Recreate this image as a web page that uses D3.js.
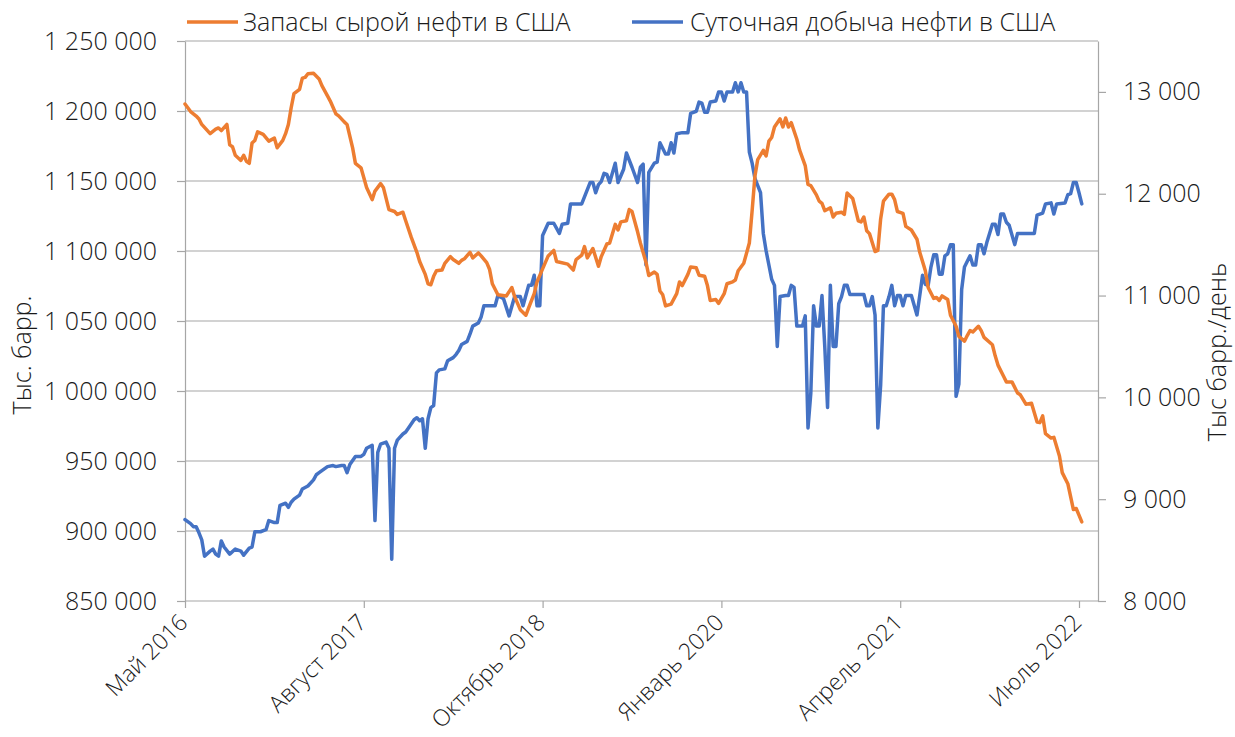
<!DOCTYPE html>
<html>
<head>
<meta charset="utf-8">
<script src="https://cdn.jsdelivr.net/npm/d3@7"></script>
<style>
  body { margin: 0; background: #fff; }
  svg { font-family: "Open Sans", sans-serif; font-weight: 300; }
</style>
</head>
<body>
<div id="chart"></div>
<script>
// Weekly series, x = weeks since the first observation
const startDate = "2016-05-13";
const tickWeeks = [0, 64, 128, 192, 256, 320];
const tickLabels = ["Май 2016", "Август 2017", "Октябрь 2018", "Январь 2020", "Апрель 2021", "Июль 2022"];
const leftTicks = [850000, 900000, 950000, 1000000, 1050000, 1100000, 1150000, 1200000, 1250000];
const rightTicks = [8000, 9000, 10000, 11000, 12000, 13000];
const seriesNames = ["Запасы сырой нефти в США", "Суточная добыча нефти в США"];
const axisTitles = ["Тыс. барр.", "Тыс барр./день"];

// Запасы сырой нефти, тыс. барр. (left axis)
const stockWeeks = [0, 2, 4, 5, 6, 9, 11, 12, 13, 15, 16, 17, 18, 20, 21, 22, 23, 24, 25, 26, 28, 30, 32, 33, 35, 36, 37, 38, 39, 41,
  42, 43, 44, 46, 48, 49, 51, 52, 54, 55, 57, 58, 60, 61, 63, 65, 67, 68, 70, 71, 73, 75, 76, 78, 79, 81, 83, 84, 86, 87,
  88, 89, 90, 92, 93, 95, 96, 98, 99, 100, 102, 103, 105, 106, 108, 109, 110, 112, 115, 117, 118, 120, 122, 123, 125, 126, 128, 130, 132, 133,
  137, 139, 140, 142, 143, 144, 146, 148, 149, 151, 152, 154, 155, 156, 158, 159, 160, 162, 163, 165, 166, 168, 169, 170, 171, 172, 174, 176, 177, 178,
  180, 181, 183, 184, 186, 187, 188, 190, 191, 193, 194, 196, 197, 198, 200, 202, 203, 204, 205, 207, 208, 209, 210, 211, 213, 214, 215, 216, 217, 219,
  220, 222, 223, 224, 226, 227, 228, 229, 231, 232, 233, 235, 236, 237, 239, 240, 241, 242, 243, 244, 245, 247, 248, 249, 250, 252, 253, 254, 255, 257,
  258, 260, 262, 263, 265, 266, 268, 269, 270, 271, 273, 274, 276, 277, 279, 280, 281, 282, 284, 285, 286, 289, 290, 291, 293, 294, 296, 298, 299, 301,
  303, 305, 306, 307, 308, 310, 311, 313, 314, 316, 318, 319, 320, 321];
const stockValues = [1205000, 1199600, 1196400, 1194300, 1190400, 1183800, 1187000, 1187900, 1186000, 1190400, 1175800, 1174500, 1168400, 1164700, 1168400, 1164000, 1162600, 1177100, 1179000, 1185100, 1183300, 1178500, 1180600, 1173700, 1179000, 1183800, 1190400, 1202300, 1212400, 1215500,
  1223500, 1224000, 1226600, 1226900, 1222900, 1218100, 1210800, 1207100, 1198000, 1196500, 1192200, 1190400, 1173700, 1162600, 1159400, 1145400, 1136700, 1142800, 1148100, 1145400, 1129600, 1128200, 1126100, 1127700, 1121600, 1109700, 1099100, 1092500, 1083300, 1076600,
  1075900, 1081900, 1085900, 1086400, 1091200, 1096000, 1093900, 1091200, 1093300, 1094400, 1099100, 1095100, 1098600, 1096500, 1091700, 1087000, 1076600, 1068700, 1067900, 1073900, 1067400, 1058100, 1054100, 1059400, 1069500, 1077900, 1087200, 1096500, 1100400, 1092500,
  1090600, 1086400, 1093900, 1097000, 1103100, 1095100, 1101800, 1089100, 1096000, 1105000, 1105700, 1119000, 1115000, 1120800, 1121600, 1129600, 1128200, 1113700, 1105700, 1092000, 1082500, 1085000, 1083300, 1071400, 1068700, 1060800, 1062100, 1069500, 1077900, 1075300,
  1083300, 1088600, 1088000, 1082700, 1081900, 1075300, 1064700, 1065300, 1062600, 1069500, 1076600, 1077900, 1079300, 1085900, 1091200, 1105700, 1128900, 1153400, 1165300, 1171900, 1167900, 1178500, 1181100, 1188600, 1194400, 1188600, 1195000, 1188600, 1191700, 1179800,
  1172000, 1161000, 1147500, 1146700, 1140100, 1135600, 1134000, 1128800, 1130900, 1124300, 1126900, 1127700, 1126100, 1141400, 1137500, 1129600, 1121600, 1120800, 1124300, 1114500, 1112400, 1099600, 1100400, 1122900, 1135600, 1140600, 1140600, 1136700, 1128200, 1126900,
  1117600, 1115000, 1108400, 1099100, 1085900, 1073900, 1066100, 1066800, 1064700, 1067900, 1065300, 1054100, 1046200, 1039000, 1035600, 1039600, 1043100, 1042200, 1046200, 1043100, 1038300, 1033000, 1025100, 1018500, 1010500, 1006500, 1006500, 998600, 997300, 990600,
  991200, 977900, 977400, 982200, 969500, 966400, 966900, 953600, 941700, 933800, 915300, 916100, 911300, 906500];

// Суточная добыча, тыс. барр./день (right axis)
const outputWeeks = [0, 2, 3, 4, 5, 6, 7, 9, 10, 11, 12, 13, 14, 16, 18, 20, 21, 23, 24, 25, 27, 29, 30, 32, 33, 34, 36, 37, 38, 39,
  41, 42, 44, 46, 47, 48, 50, 51, 53, 54, 56, 57, 58, 59, 61, 63, 64, 65, 67, 68, 69, 70, 72, 73, 74, 75, 76, 78, 79, 80,
  82, 83, 84, 85, 86, 87, 88, 89, 90, 91, 93, 94, 96, 97, 98, 99, 101, 102, 103, 105, 106, 107, 109, 111, 112, 114, 116, 118, 119, 120,
  121, 123, 124, 125, 126, 127, 128, 130, 132, 134, 135, 137, 138, 140, 142, 145, 146, 147, 148, 149, 150, 151, 152, 154, 155, 157, 158, 160, 162, 163,
  164, 165, 166, 168, 169, 170, 172, 173, 174, 175, 176, 178, 180, 181, 183, 184, 185, 186, 187, 188, 190, 191, 192, 193, 194, 196, 197, 198, 199, 200,
  201, 202, 203, 204, 206, 207, 208, 209, 210, 211, 212, 213, 215, 216, 217, 218, 219, 221, 222, 223, 224, 225, 226, 227, 228, 229, 230, 231, 232, 233,
  234, 235, 236, 237, 238, 240, 242, 243, 244, 245, 246, 247, 248, 249, 250, 251, 252, 253, 254, 255, 256, 257, 258, 260, 262, 263, 264, 265, 266, 267,
  268, 269, 270, 271, 272, 273, 274, 275, 276, 277, 278, 279, 281, 282, 283, 284, 285, 286, 287, 289, 290, 291, 292, 293, 294, 295, 297, 298, 301, 304,
  305, 307, 308, 310, 311, 312, 315, 316, 317, 318, 319, 320, 321];
const outputValues = [8800, 8760, 8730, 8730, 8670, 8600, 8440, 8490, 8510, 8460, 8440, 8590, 8530, 8460, 8510, 8490, 8450, 8520, 8530, 8680, 8680, 8700, 8790, 8770, 8770, 8940, 8960, 8920, 8970, 9000,
  9040, 9100, 9130, 9190, 9240, 9260, 9300, 9320, 9330, 9320, 9330, 9330, 9260, 9340, 9420, 9420, 9440, 9500, 9530, 8790, 9460, 9540, 9560, 9500, 8410, 9500, 9580, 9640, 9660, 9700,
  9780, 9800, 9770, 9790, 9500, 9790, 9900, 9920, 10240, 10270, 10280, 10360, 10390, 10420, 10460, 10520, 10550, 10620, 10700, 10730, 10790, 10900, 10900, 10900, 11000, 10970, 10800, 10990, 10990, 10990,
  10900, 11100, 11100, 11200, 10900, 10900, 11590, 11710, 11710, 11610, 11700, 11710, 11900, 11900, 11900, 12110, 12110, 12010, 12090, 12120, 12200, 12190, 12110, 12300, 12110, 12240, 12400, 12260, 12110, 12260,
  12290, 11300, 12210, 12300, 12310, 12500, 12390, 12390, 12500, 12400, 12590, 12600, 12600, 12790, 12810, 12900, 12890, 12800, 12800, 12900, 12910, 13000, 13000, 12910, 13000, 13000, 13090, 13000, 13090, 13000,
  13000, 12410, 12300, 12150, 12010, 11610, 11440, 11300, 11160, 11100, 10500, 10990, 11000, 11000, 11100, 11080, 10700, 10700, 10800, 9700, 10040, 10900, 10700, 10700, 11000, 10500, 9900, 11100, 10500, 10500,
  10920, 10990, 11100, 11100, 11010, 11010, 11010, 11010, 10900, 10900, 10990, 10810, 9700, 10120, 10900, 10900, 10990, 11100, 10900, 11000, 11000, 10900, 11000, 11000, 10810, 11000, 11200, 11110, 11100, 11280,
  11400, 11400, 11210, 11210, 11390, 11410, 11500, 11500, 10010, 10130, 11060, 11280, 11390, 11300, 11300, 11500, 11500, 11410, 11520, 11700, 11700, 11600, 11800, 11800, 11720, 11690, 11500, 11610, 11610, 11610,
  11790, 11810, 11900, 11910, 11800, 11900, 11910, 11990, 12000, 12110, 12110, 12010, 11900];

const colors = ["#ED7D31", "#4472C4"];
const gridColor = "#a6a6a6";
const textColor = "#1a1a1a";

const W = 1235, H = 737;
const plot = {left: 185, right: 1098, top: 41, bottom: 601};

let parseDay = d3.utcParse("%Y-%m-%d");
let weekDate = (w) => d3.utcDay.offset(parseDay(startDate), 7 * w);

let svg = d3.select("#chart")
    .append("svg")
    .attr("width", W)
    .attr("height", H)
    .attr("viewBox", `0 0 ${W} ${H}`);

/* Scales */
let x = d3.scaleUtc()
    .domain([weekDate(tickWeeks[0]), weekDate(tickWeeks[tickWeeks.length - 1])])
    .range([plot.left, 1079]);
let yL = d3.scaleLinear().domain([850000, 1250000]).range([plot.bottom, plot.top]);
let yR = d3.scaleLinear().domain([8000, 13500]).range([plot.bottom, plot.top]);

const fmt = d3.formatLocale({decimal: ",", thousands: "\u00a0", grouping: [3], currency: ["", ""]}).format(",");

/* Gridlines */
svg.append("g")
    .selectAll("line")
    .data(leftTicks)
    .join("line")
    .attr("x1", plot.left)
    .attr("x2", plot.right)
    .attr("y1", d => yL(d))
    .attr("y2", d => yL(d))
    .attr("stroke", gridColor)
    .attr("stroke-width", 1.2);

let styleAxis = (g) => {
    g.selectAll("path, line").attr("stroke", gridColor).attr("stroke-width", 1.2);
    g.selectAll("text")
        .attr("fill", textColor)
        .style("font-size", "25px")
        .style("font-family", "\"Open Sans\", sans-serif")
        .style("font-weight", 300);
};

/* Left axis */
svg.append("g")
    .attr("transform", `translate(${plot.left}, 0)`)
    .call(d3.axisLeft(yL).tickValues(leftTicks).tickSize(8).tickSizeOuter(0).tickPadding(20).tickFormat(fmt))
    .call(styleAxis);

/* Right axis */
svg.append("g")
    .attr("transform", `translate(${plot.right}, 0)`)
    .call(d3.axisRight(yR).tickValues(rightTicks).tickSize(8).tickSizeOuter(0).tickPadding(17).tickFormat(fmt))
    .call(styleAxis);

/* Bottom axis: ticks only, labels rotated by hand */
let xAxis = svg.append("g")
    .attr("transform", `translate(0, ${plot.bottom})`)
    .call(d3.axisBottom(x).tickValues(tickWeeks.map(weekDate)).tickSize(7).tickSizeOuter(0).tickFormat(""))
    .call(styleAxis);
xAxis.select(".domain").remove();

svg.append("g")
    .selectAll("text")
    .data(tickWeeks)
    .join("text")
    .attr("transform", (d) => `translate(${x(weekDate(d)) + 4}, ${plot.bottom + 23}) rotate(-45)`)
    .attr("text-anchor", "end")
    .attr("fill", textColor)
    .style("font-size", "23px")
    .text((d, i) => tickLabels[i]);

/* Series */
let stock = stockWeeks.map((w, i) => ({date: weekDate(w), value: stockValues[i]}));
let output = outputWeeks.map((w, i) => ({date: weekDate(w), value: outputValues[i]}));

let lineL = d3.line().x(d => x(d.date)).y(d => yL(d.value));
let lineR = d3.line().x(d => x(d.date)).y(d => yR(d.value));

svg.append("path")
    .datum(output)
    .attr("d", lineR)
    .attr("fill", "none")
    .attr("stroke", colors[1])
    .attr("stroke-width", 3.5)
    .attr("stroke-linejoin", "round")
    .attr("stroke-linecap", "round");

svg.append("path")
    .datum(stock)
    .attr("d", lineL)
    .attr("fill", "none")
    .attr("stroke", colors[0])
    .attr("stroke-width", 3.5)
    .attr("stroke-linejoin", "round")
    .attr("stroke-linecap", "round");

/* Legend */
const legendPos = [{x: 187, textX: 243}, {x: 632, textX: 690}];
let legend = svg.append("g")
    .selectAll("g")
    .data(seriesNames)
    .join("g");
legend.append("line")
    .attr("x1", (d, i) => legendPos[i].x)
    .attr("x2", (d, i) => legendPos[i].x + 51)
    .attr("y1", 22)
    .attr("y2", 22)
    .attr("stroke", (d, i) => colors[i])
    .attr("stroke-width", 3.5);
legend.append("text")
    .attr("x", (d, i) => legendPos[i].textX)
    .attr("y", 30.5)
    .attr("fill", textColor)
    .style("font-size", "25px")
    .text(d => d);

/* Axis titles */
svg.append("text")
    .attr("transform", "translate(31, 355) rotate(-90)")
    .attr("text-anchor", "middle")
    .attr("fill", textColor)
    .style("font-size", "25px")
    .text(axisTitles[0]);

svg.append("text")
    .attr("transform", "translate(1226, 352) rotate(-90)")
    .attr("text-anchor", "middle")
    .attr("fill", textColor)
    .style("font-size", "25px")
    .text(axisTitles[1]);
</script>
</body>
</html>
